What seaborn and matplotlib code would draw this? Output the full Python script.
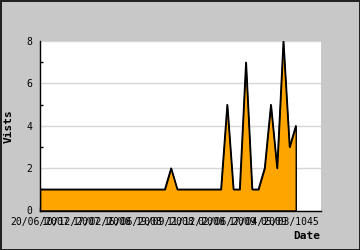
import matplotlib
matplotlib.use("Agg")
import matplotlib.pyplot as plt
import seaborn as sns
import pandas as pd
from matplotlib.ticker import MultipleLocator

# ---- data ----
visits = [1, 1, 1, 1, 1, 1, 1, 1, 1, 1,
          1, 1, 1, 1, 1, 1, 1, 1, 1, 1,
          1, 2, 1, 1, 1, 1, 1, 1, 1, 1,
          5, 1, 1, 7, 1, 1, 2, 5, 2, 8,
          3, 4]
point_index = list(range(len(visits)))
tick_positions = [0, 5, 10, 15, 20, 25, 30, 35, 40]
tick_labels = ["20/06/2007", "10/12/2007", "17/02/2008", "16/06/2008",
               "19/09/2008", "11/12/2008", "02/06/2009", "17/04/2009",
               "05/03/1045"]
x_title = "Date"
y_title = "Vists"

df = pd.DataFrame({"idx": point_index, "visits": visits})

sns.set_style("white")
plt.rcParams["font.family"] = ["DejaVu Sans Mono", "DejaVu Sans"]

fig = plt.figure(figsize=(3.6, 2.5), dpi=100)
fig.patch.set_facecolor("#c8c8c8")
fig.patch.set_edgecolor("#222222")
fig.patch.set_linewidth(2)

ax = fig.add_axes([40 / 360, 39.5 / 250, (320.7 - 40) / 360, (210.5 - 41) / 250])
ax.set_facecolor("white")

ax.fill_between(df["idx"], df["visits"], 0, facecolor="#ffa500",
                edgecolor="black", linewidth=1, zorder=2)
sns.lineplot(data=df, x="idx", y="visits", ax=ax, color="black",
             linewidth=1, zorder=3)

ax.set_xlim(0, 45)
ax.set_ylim(0, 8)

ax.yaxis.set_major_locator(MultipleLocator(2))
ax.yaxis.set_minor_locator(MultipleLocator(1))
ax.set_xticks(tick_positions)
ax.set_xticklabels(tick_labels)

ax.grid(axis="y", which="major", color="#d6d6d6", linewidth=1, zorder=0)
ax.set_axisbelow(True)

for s in ["top", "right"]:
    ax.spines[s].set_visible(False)
for s in ["left", "bottom"]:
    ax.spines[s].set_color("black")
    ax.spines[s].set_linewidth(1)
    ax.spines[s].set_zorder(4)

ax.tick_params(axis="y", which="major", direction="in", length=3.2, width=1,
               color="black", pad=5.5, labelsize=7, labelcolor="black")
ax.tick_params(axis="y", which="minor", direction="in", length=2.4, width=1,
               color="black", left=True)
ax.tick_params(axis="x", which="major", direction="in", length=3, width=1,
               color="black", pad=4.5, labelsize=7, labelcolor="black",
               bottom=True)

ax.set_xlabel(x_title, loc="right", fontweight="bold", fontsize=8,
              labelpad=3, color="black")
ax.set_ylabel(y_title, fontweight="bold", fontsize=8, labelpad=9,
              color="black")

fig.savefig("out.png", dpi=100, facecolor=fig.get_facecolor(),
            edgecolor=fig.get_edgecolor())
